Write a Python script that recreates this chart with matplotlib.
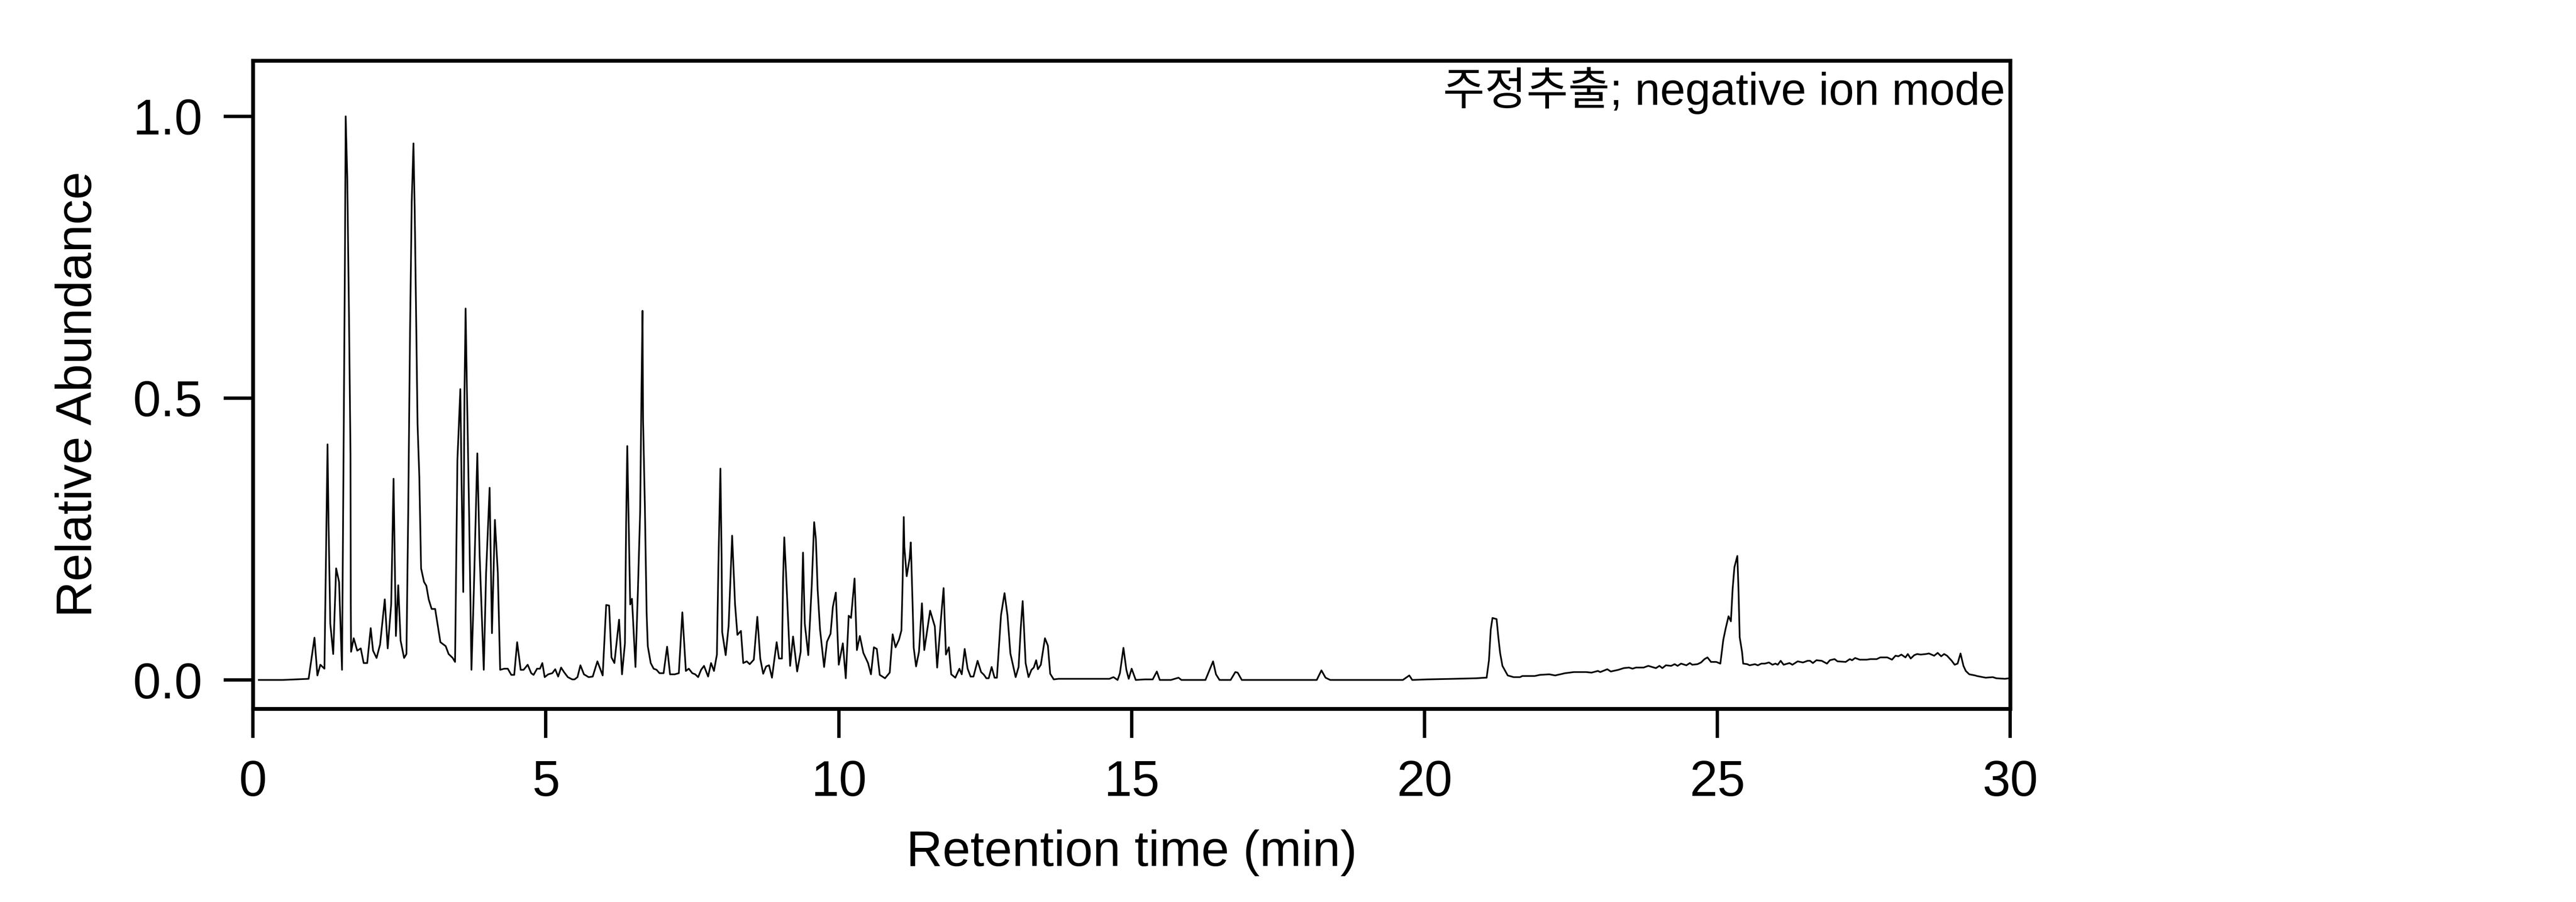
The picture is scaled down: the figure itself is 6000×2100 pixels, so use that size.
import matplotlib
matplotlib.use("Agg")
import matplotlib.pyplot as plt
import numpy as np

# --- fonts: latin from Liberation Sans, hangul from Noto CJK ---
plt.rcParams['font.family'] = ['Liberation Sans', 'Noto Sans CJK KR', 'DejaVu Sans']

# --- chromatogram (retention time in min, relative abundance) ---
rt_0_5 = [0.10, 0.50, 0.95, 1.05, 1.10, 1.15, 1.22, 1.273, 1.29, 1.32, 1.37, 1.42, 1.47, 1.52,
          1.55, 1.57, 1.583, 1.61, 1.64, 1.665, 1.67, 1.675, 1.72, 1.78, 1.84, 1.89, 1.95, 2.01,
          2.05, 2.11, 2.17, 2.25, 2.30, 2.36, 2.40, 2.44, 2.48, 2.52, 2.58, 2.62, 2.65, 2.68,
          2.71, 2.74, 2.76, 2.77, 2.81, 2.84, 2.87, 2.92, 2.96, 3.00, 3.05, 3.11, 3.20, 3.29,
          3.34, 3.41, 3.45, 3.49, 3.54, 3.56, 3.59, 3.61, 3.63, 3.65, 3.69, 3.73, 3.77, 3.83,
          3.87, 3.94, 3.98, 4.04, 4.08, 4.13, 4.18, 4.22, 4.29, 4.35, 4.41, 4.46, 4.51, 4.57,
          4.62, 4.69, 4.75, 4.79, 4.85, 4.90, 4.94, 4.98, 5.04]
ab_0_5 = [0.0, 0.0, 0.002, 0.075, 0.008, 0.027, 0.020, 0.418, 0.28, 0.10, 0.046, 0.198, 0.174, 0.018,
          0.45, 0.75, 1.0, 0.89, 0.64, 0.40, 0.135, 0.05, 0.074, 0.052, 0.056, 0.030, 0.030, 0.092,
          0.052, 0.039, 0.063, 0.143, 0.056, 0.135, 0.357, 0.078, 0.168, 0.070, 0.039, 0.046, 0.295, 0.605,
          0.847, 0.952, 0.84, 0.765, 0.453, 0.36, 0.198, 0.174, 0.167, 0.143, 0.126, 0.126, 0.067, 0.060,
          0.046, 0.039, 0.032, 0.39, 0.516, 0.36, 0.156, 0.50, 0.659, 0.53, 0.295, 0.018, 0.156, 0.402,
          0.22, 0.018, 0.19, 0.341, 0.083, 0.284, 0.19, 0.018, 0.020, 0.020, 0.009, 0.009, 0.067, 0.018,
          0.018, 0.027, 0.012, 0.009, 0.020, 0.020, 0.030, 0.005, 0.010]

rt_5_10 = [5.11, 5.16, 5.21, 5.26, 5.31, 5.375, 5.45, 5.49, 5.54, 5.59, 5.65, 5.73, 5.80, 5.88,
           5.97, 6.03, 6.08, 6.12, 6.17, 6.25, 6.30, 6.35, 6.37, 6.39, 6.41, 6.44, 6.47, 6.53,
           6.57, 6.61, 6.63, 6.65, 6.66, 6.69, 6.72, 6.74, 6.79, 6.84, 6.89, 6.94, 7.01, 7.07,
           7.12, 7.20, 7.27, 7.33, 7.39, 7.44, 7.50, 7.55, 7.60, 7.65, 7.70, 7.77, 7.82, 7.87,
           7.92, 7.945, 7.98, 8.00, 8.01, 8.07, 8.12, 8.18, 8.23, 8.27, 8.33, 8.37, 8.43, 8.48,
           8.55, 8.61, 8.66, 8.71, 8.76, 8.81, 8.86, 8.94, 8.98, 9.03, 9.05, 9.07, 9.10, 9.17,
           9.22, 9.29, 9.35, 9.39, 9.42, 9.48, 9.54, 9.58, 9.61, 9.64, 9.68, 9.75, 9.80, 9.86,
           9.90, 9.95]
ab_5_10 = [0.012, 0.019, 0.006, 0.022, 0.014, 0.005, 0.001, 0.001, 0.005, 0.026, 0.010, 0.005, 0.006, 0.033,
           0.008, 0.133, 0.132, 0.040, 0.030, 0.107, 0.010, 0.065, 0.276, 0.415, 0.30, 0.134, 0.144, 0.023,
           0.154, 0.30, 0.49, 0.655, 0.46, 0.31, 0.12, 0.06, 0.030, 0.020, 0.018, 0.012, 0.012, 0.059,
           0.010, 0.010, 0.012, 0.120, 0.016, 0.020, 0.012, 0.010, 0.005, 0.018, 0.025, 0.006, 0.030, 0.016,
           0.045, 0.20, 0.375, 0.22, 0.085, 0.044, 0.096, 0.256, 0.134, 0.080, 0.087, 0.030, 0.033, 0.028,
           0.036, 0.112, 0.038, 0.011, 0.024, 0.026, 0.004, 0.067, 0.038, 0.038, 0.18, 0.253, 0.19, 0.025,
           0.077, 0.015, 0.050, 0.226, 0.10, 0.044, 0.17, 0.28, 0.25, 0.16, 0.09, 0.023, 0.068, 0.082,
           0.13, 0.155]

rt_10_15 = [10.00, 10.07, 10.12, 10.17, 10.21, 10.27, 10.31, 10.36, 10.42, 10.50, 10.55, 10.60, 10.65,
            10.70, 10.79, 10.87, 10.92, 10.97, 11.03, 11.07, 11.09, 11.11, 11.12, 11.16, 11.21, 11.23,
            11.26, 11.28, 11.32, 11.37, 11.42, 11.46, 11.56, 11.64, 11.68, 11.75, 11.79, 11.83, 11.88,
            11.92, 11.99, 12.06, 12.10, 12.15, 12.20, 12.25, 12.30, 12.37, 12.43, 12.48, 12.52, 12.56,
            12.61, 12.66, 12.70, 12.77, 12.83, 12.88, 12.93, 13.02, 13.07, 13.11, 13.14, 13.16, 13.19,
            13.24, 13.29, 13.33, 13.37, 13.40, 13.45, 13.52, 13.57, 13.61, 13.67, 13.75, 13.87, 14.03,
            14.36, 14.62]
ab_10_15 = [0.027, 0.065, 0.003, 0.114, 0.110, 0.180, 0.053, 0.078, 0.048, 0.030, 0.010, 0.058, 0.055,
            0.009, 0.003, 0.013, 0.081, 0.058, 0.072, 0.088, 0.172, 0.289, 0.236, 0.184, 0.216, 0.244,
            0.137, 0.057, 0.024, 0.050, 0.136, 0.053, 0.123, 0.095, 0.022, 0.115, 0.163, 0.045, 0.058,
            0.010, 0.004, 0.020, 0.010, 0.055, 0.020, 0.006, 0.006, 0.034, 0.014, 0.009, 0.003, 0.003,
            0.023, 0.004, 0.004, 0.115, 0.154, 0.115, 0.047, 0.005, 0.023, 0.097, 0.140, 0.097, 0.030,
            0.005, 0.018, 0.022, 0.035, 0.019, 0.027, 0.074, 0.061, 0.011, 0.001, 0.002, 0.002, 0.002,
            0.002, 0.002]

rt_15_21 = [14.69, 14.76, 14.80, 14.86, 14.91, 14.95, 15.00, 15.07, 15.22, 15.36, 15.43, 15.48, 15.67,
            15.80, 15.85, 16.26, 16.39, 16.44, 16.50, 16.69, 16.77, 16.81, 16.88, 18.16, 18.24, 18.31,
            18.39, 19.63, 19.74, 19.79, 20.04, 20.50, 20.88, 21.03]
ab_15_21 = [0.005, 0.0, 0.012, 0.057, 0.018, 0.002, 0.020, 0.0, 0.001, 0.001, 0.015, 0.0, 0.0,
            0.004, 0.0, 0.0, 0.033, 0.010, 0.0, 0.0, 0.014, 0.013, 0.0, 0.0, 0.017, 0.004,
            0.0, 0.0, 0.008, 0.0, 0.001, 0.002, 0.003, 0.004]

rt_21_25 = [21.06, 21.10, 21.13, 21.16, 21.23, 21.26, 21.29, 21.33, 21.42, 21.52, 21.63, 21.67, 21.88,
            21.97, 22.13, 22.23, 22.40, 22.55, 22.76, 22.85, 22.96, 23.00, 23.12, 23.18, 23.31, 23.40,
            23.49, 23.55, 23.61, 23.74, 23.82, 23.95, 24.01, 24.06, 24.12, 24.21, 24.27, 24.32, 24.38,
            24.47, 24.53, 24.57, 24.66, 24.72, 24.78, 24.83, 24.89, 24.98, 25.05, 25.10, 25.14, 25.19,
            25.23, 25.26, 25.29, 25.34, 25.36, 25.38, 25.42, 25.44]
ab_21_25 = [0.004, 0.035, 0.089, 0.110, 0.108, 0.076, 0.048, 0.025, 0.008, 0.005, 0.005, 0.007, 0.007,
            0.009, 0.010, 0.008, 0.012, 0.014, 0.014, 0.013, 0.016, 0.014, 0.019, 0.015, 0.018, 0.021,
            0.022, 0.020, 0.022, 0.022, 0.025, 0.021, 0.025, 0.021, 0.026, 0.025, 0.028, 0.025, 0.029,
            0.026, 0.030, 0.027, 0.028, 0.031, 0.037, 0.040, 0.032, 0.032, 0.029, 0.071, 0.091, 0.113,
            0.104, 0.162, 0.200, 0.220, 0.160, 0.076, 0.050, 0.029]

rt_25_30 = [25.51, 25.55, 25.64, 25.69, 25.75, 25.81, 25.88, 25.94, 25.99, 26.03, 26.08, 26.13, 26.23,
            26.28, 26.37, 26.46, 26.54, 26.58, 26.63, 26.69, 26.78, 26.87, 26.92, 27.00, 27.05, 27.19,
            27.26, 27.30, 27.35, 27.43, 27.55, 27.61, 27.72, 27.78, 27.90, 27.98, 28.04, 28.09, 28.14,
            28.21, 28.25, 28.30, 28.36, 28.41, 28.47, 28.56, 28.61, 28.70, 28.76, 28.82, 28.87, 28.92,
            29.00, 29.05, 29.10, 29.15, 29.20, 29.24, 29.30, 29.40, 29.43, 29.58, 29.70, 29.76, 29.91,
            29.98]
ab_25_30 = [0.028, 0.026, 0.028, 0.026, 0.029, 0.029, 0.031, 0.027, 0.029, 0.027, 0.034, 0.027, 0.030,
            0.027, 0.033, 0.031, 0.034, 0.034, 0.030, 0.035, 0.034, 0.029, 0.035, 0.037, 0.033, 0.032,
            0.037, 0.035, 0.039, 0.036, 0.036, 0.037, 0.037, 0.040, 0.040, 0.036, 0.043, 0.042, 0.045,
            0.040, 0.046, 0.038, 0.044, 0.046, 0.045, 0.046, 0.047, 0.043, 0.048, 0.042, 0.046, 0.043,
            0.034, 0.027, 0.029, 0.047, 0.025, 0.016, 0.010, 0.008, 0.007, 0.004, 0.005, 0.003, 0.002,
            0.003]

rt = np.array(rt_0_5 + rt_5_10 + rt_10_15 + rt_15_21 + rt_21_25 + rt_25_30)
abundance = np.array(ab_0_5 + ab_5_10 + ab_10_15 + ab_15_21 + ab_21_25 + ab_25_30)

x_ticks = [0, 5, 10, 15, 20, 25, 30]
y_ticks = [0.0, 0.5, 1.0]
y_tick_labels = ['0.0', '0.5', '1.0']
label_text = '주정추출; negative ion mode'

# --- figure ---
fig = plt.figure(figsize=(30, 10.5), dpi=200)
ax = fig.add_axes([0.0982, 0.2143, 0.6822, 0.7186])

ax.plot(rt, abundance, color='black', linewidth=1.4)

ax.set_xlim(0, 30)
ax.set_ylim(-0.051, 1.099)

for s in ax.spines.values():
    s.set_linewidth(3.2)

ax.set_xticks(x_ticks)
ax.set_yticks(y_ticks)
ax.set_yticklabels(y_tick_labels)
ax.tick_params(axis='both', direction='out', length=24.5, width=2.8,
               labelsize=42, pad=18)

ax.set_xlabel('Retention time (min)', fontsize=42)
ax.xaxis.set_label_coords(0.5, -0.186)
ax.xaxis.label.set_va('top')
ax.set_ylabel('Relative Abundance', fontsize=42)
ax.yaxis.set_label_coords(-0.086, 0.485)

ax.text(0.997, 0.932, label_text, transform=ax.transAxes,
        ha='right', va='baseline', fontsize=38)

fig.savefig('out.png', dpi=200)
